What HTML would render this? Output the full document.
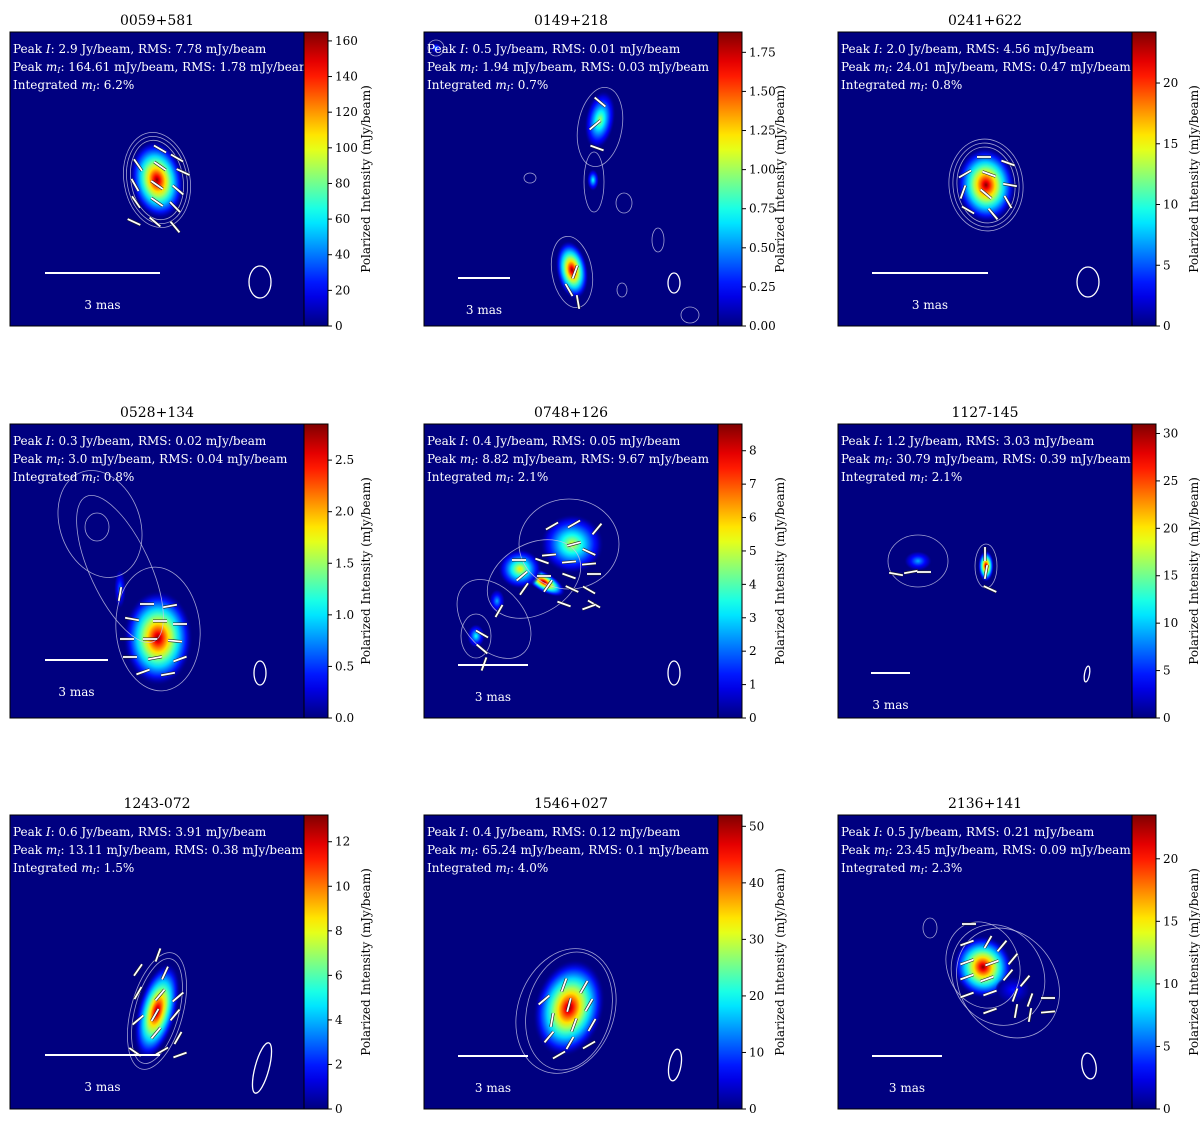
<!DOCTYPE html>
<html><head><meta charset="utf-8"><style>
html,body{margin:0;padding:0;background:#fff;}
svg{display:block;font-family:"DejaVu Serif","Liberation Serif",serif;}
</style></head><body>
<svg id="fig" width="1200" height="1123" viewBox="0 0 1200 1123" xmlns="http://www.w3.org/2000/svg">
<defs id="defs"></defs>
</svg>
<script>
const titles=["0059+581","0149+218","0241+622","0528+134","0748+126","1127-145","1243-072","1546+027","2136+141"];
const line1=[["2.9","7.78"],["0.5","0.01"],["2.0","4.56"],["0.3","0.02"],["0.4","0.05"],["1.2","3.03"],["0.6","3.91"],["0.4","0.12"],["0.5","0.21"]];
const line2=[["164.61","1.78"],["1.94","0.03"],["24.01","0.47"],["3.0","0.04"],["8.82","9.67"],["30.79","0.39"],["13.11","0.38"],["65.24","0.1"],["23.45","0.09"]];
const integ=["6.2","0.7","0.8","0.8","2.1","2.1","1.5","4.0","2.3"];
const cbMax=[165,1.88,24.2,2.85,8.8,31,13.2,52,23.5];
const cbTicks=[[0,20,40,60,80,100,120,140,160],[0,0.25,0.5,0.75,1.0,1.25,1.5,1.75],[0,5,10,15,20],[0,0.5,1.0,1.5,2.0,2.5],[0,1,2,3,4,5,6,7,8],[0,5,10,15,20,25,30],[0,2,4,6,8,10,12],[0,10,20,30,40,50],[0,5,10,15,20]];
const cbDec=[0,2,0,1,0,0,0,0,0];
// blobs: [panel, cx, cy, rx, ry, rot, peakFraction]
const blobs=[[0,147,148,27,40,-10,1],
[1,176,88,15,30,10,0.55],[1,169,148,6,11,0,0.4],[1,148,238,16,30,-10,1],[1,12,16,5,5,0,0.3],
[2,148,153,30,38,-5,1],
[3,148,214,35,48,0,1],[3,110,165,6,20,0,0.25],
[4,120,158,24,10,30,1],[4,148,120,32,30,0,0.6],[4,96,145,22,20,0,0.65],[4,73,177,8,12,0,0.3],[4,52,212,9,12,0,0.4],
[5,80,137,14,10,0,0.3],[5,148,142,8,16,0,1],
[6,147,196,20,50,15,1],
[7,145,193,35,50,15,1],
[8,145,152,30,32,-20,1],[8,175,175,18,14,0,0.15]];
// contours: [panel, cx, cy, rx, ry, rot]
const contours=[[0,147,148,33,48,-10],[0,147,148,30,44,-10],[0,147,148,26,40,-10],
[1,176,95,22,40,10],[1,170,150,10,30,0],[1,148,240,20,36,-10],[1,106,146,6,5,0],[1,200,171,8,10,0],[1,234,208,6,12,0],[1,198,258,5,7,0],[1,266,283,9,8,0],[1,12,16,8,8,0],
[2,148,153,37,46,-5],[2,148,153,33,42,-5],[2,148,153,29,38,-5],
[3,148,205,42,62,-5],[3,90,100,40,55,-20],[3,110,145,30,80,-25],[3,87,103,12,14,0],
[4,145,120,50,45,0],[4,110,155,50,35,-30],[4,70,195,30,45,-40],[4,52,212,15,22,0],
[5,80,137,30,26,0],[5,148,142,11,22,0],
[6,147,196,26,60,15],[6,147,196,22,54,15],
[7,145,196,42,60,15],[7,142,196,48,64,20],
[8,145,150,36,44,-20],[8,160,160,45,52,-30],[8,170,168,48,58,-35],[8,92,113,7,10,0]];
// EVPA vectors: [panel, x, y, angleDeg]
const vecs=[[0,150,117,30],[0,167,126,30],[0,128,133,55],[0,150,134,35],[0,173,140,25],[0,125,153,60],[0,147,153,35],[0,168,158,40],[0,126,170,55],[0,147,170,35],[0,165,175,45],[0,124,190,25],[0,145,190,40],[0,165,195,50],
[1,176,70,40],[1,171,93,-40],[1,173,116,20],[1,151,240,-70],[1,145,258,60],[1,154,270,80],
[2,146,125,0],[2,170,131,20],[2,127,142,-30],[2,151,142,20],[2,172,153,10],[2,125,160,-70],[2,148,162,40],[2,170,170,60],[2,130,178,30],[2,155,182,50],
[3,110,170,-80],[3,137,180,0],[3,160,182,-10],[3,122,195,10],[3,150,197,0],[3,170,200,0],[3,117,215,0],[3,140,215,0],[3,165,217,5],[3,120,233,0],[3,145,234,-10],[3,170,235,-20],[3,133,248,-20],[3,158,250,-10],
[4,128,102,-30],[4,150,100,-30],[4,173,105,-50],[4,150,120,-15],[4,125,131,-5],[4,165,128,25],[4,95,136,0],[4,118,137,20],[4,145,138,-5],[4,165,140,-5],[4,98,152,-40],[4,120,152,0],[4,145,152,20],[4,170,150,0],[4,100,165,-55],[4,124,162,-55],[4,148,165,25],[4,165,166,30],[4,170,180,30],[4,140,180,20],[4,165,183,-20],[4,75,187,-60],[4,58,210,30],[4,58,225,40],[4,60,240,-70],
[5,58,150,10],[5,73,148,-10],[5,86,148,0],[5,147,130,-90],[5,148,148,-80],[5,152,165,25],
[6,148,140,-70],[6,128,155,-55],[6,155,158,-65],[6,128,178,-60],[6,150,180,-50],[6,168,182,-40],[6,145,200,-60],[6,165,200,-50],[6,128,205,-40],[6,146,218,-50],[6,168,223,-60],[6,152,236,-30],[6,125,237,35],[6,170,240,-20],
[7,140,170,-70],[7,160,172,-60],[7,120,185,-40],[7,145,190,-75],[7,165,190,-60],[7,128,205,-80],[7,150,210,-70],[7,168,210,-60],[7,125,222,-50],[7,146,228,-60],[7,165,230,-30],[7,135,240,-30],
[8,131,109,0],[8,129,128,-20],[8,150,127,-60],[8,164,131,-50],[8,129,147,-20],[8,154,148,-20],[8,175,144,-50],[8,129,162,-20],[8,149,164,-20],[8,170,160,-50],[8,187,166,-50],[8,129,180,-20],[8,152,178,-20],[8,177,180,-70],[8,192,185,-70],[8,210,183,0],[8,152,196,-20],[8,178,196,-80],[8,192,200,-80],[8,210,197,-5]];
// beam ellipses: [panel, cx, cy, rx, ry, rot]
const beams=[[0,250,250,11,16,0],[1,250,251,6,10,0],[2,250,250,11,15,0],[3,250,249,6,12,0],[4,250,249,6,12,0],[5,249,250,2.5,8,10],[6,252,253,7,26,15],[7,251,250,6,16,10],[8,251,251,7,13,-10]];
// scale bars: [panel, x1, x2, y]
const bars=[[0,35,150,241],[1,34,86,246],[2,34,150,241],[3,35,98,236],[4,34,104,241],[5,33,72,249],[6,35,150,240],[7,34,104,241],[8,34,104,241]];

const svg=document.getElementById('fig'),defs=document.getElementById('defs');
const NS='http://www.w3.org/2000/svg';
function mk(t,a,p){const e=document.createElementNS(NS,t);for(const k in a)e.setAttribute(k,a[k]);(p||svg).appendChild(e);return e;}
function jet(v){v=Math.max(0,Math.min(1,v));
 const r=Math.min(4*v-1.5,-4*v+4.5),g=Math.min(4*v-0.5,-4*v+3.5),b=Math.min(4*v+0.5,-4*v+2.5);
 const c=x=>Math.round(255*Math.max(0,Math.min(1,x)));return `rgb(${c(r)},${c(g)},${c(b)})`;}
const PX=[10,424,838],PY=[32,424,815],W=294,H=294,CBW=24;
const lg=mk('linearGradient',{id:'jetg',x1:0,y1:1,x2:0,y2:0},defs);
for(let i=0;i<=20;i++)mk('stop',{offset:i/20,'stop-color':jet(i/20)},lg);
const gradCache={};
function blobGrad(pk){const id='bg'+Math.round(pk*100);if(gradCache[id])return id;gradCache[id]=1;
 const rg=mk('radialGradient',{id:id},defs);
 for(let i=0;i<=10;i++){const t=i/10;mk('stop',{offset:t,'stop-color':jet(pk*Math.pow(1-t,1.2)),'stop-opacity':t>0.85?(1-t)/0.15:1},rg);}
 return id;}
for(let p=0;p<9;p++){
 const x0=PX[p%3],y0=PY[Math.floor(p/3)];
 const g=mk('g',{transform:`translate(${x0},${y0})`});
 
 
 const cp=mk('clipPath',{id:'cp'+p},defs);mk('rect',{x:0,y:0,width:W,height:H},cp);
 const bg=mk('rect',{x:0,y:0,width:W,height:H,fill:'#000080'},g);
 
 
 const ig=mk('g',{'clip-path':`url(#cp${p})`},g);
 blobs.filter(b=>b[0]===p).forEach(b=>{const e=mk('ellipse',{cx:b[1],cy:b[2],rx:b[3],ry:b[4],transform:`rotate(${b[5]} ${b[1]} ${b[2]})`,fill:`url(#${blobGrad(b[6])})`},ig);
  
  });
 contours.filter(c=>c[0]===p).forEach(c=>{const e=mk('ellipse',{cx:c[1],cy:c[2],rx:c[3],ry:c[4],transform:`rotate(${c[5]} ${c[1]} ${c[2]})`,fill:'none',stroke:'#c8c8e8','stroke-width':0.8,opacity:0.8},ig);
  
  });
 vecs.filter(v=>v[0]===p).forEach(v=>{const a=v[3]*Math.PI/180,L=7,dx=L*Math.cos(a),dy=L*Math.sin(a);
  mk('line',{x1:v[1]-dx,y1:v[2]-dy,x2:v[1]+dx,y2:v[2]+dy,stroke:'#222','stroke-width':3,'stroke-linecap':'butt'},ig);
  const e=mk('line',{x1:v[1]-dx,y1:v[2]-dy,x2:v[1]+dx,y2:v[2]+dy,stroke:'#fff','stroke-width':1.8},ig);
  
  });
 beams.filter(b=>b[0]===p).forEach(b=>{const e=mk('ellipse',{cx:b[1],cy:b[2],rx:b[3],ry:b[4],transform:`rotate(${b[5]} ${b[1]} ${b[2]})`,fill:'none',stroke:'#fff','stroke-width':1.3},ig);
  
  });
 bars.filter(b=>b[0]===p).forEach(b=>{const e=mk('line',{x1:b[1],x2:b[2],y1:b[3],y2:b[3],stroke:'#fff','stroke-width':2},ig);
  
  
  const t=mk('text',{x:(b[1]+b[2])/2,y:b[3]+36,fill:'#fff','font-size':12,'text-anchor':'middle'},ig);t.textContent='3 mas';
  
  });
 const lines=[`Peak <tspan font-style="italic">I</tspan>: ${line1[p][0]} Jy/beam, RMS: ${line1[p][1]} mJy/beam`,
  `Peak <tspan font-style="italic">m</tspan><tspan font-size="8" dy="2" font-style="italic">I</tspan><tspan dy="-2">: ${line2[p][0]} mJy/beam, RMS: ${line2[p][1]} mJy/beam</tspan>`,
  `Integrated <tspan font-style="italic">m</tspan><tspan font-size="8" dy="2" font-style="italic">I</tspan><tspan dy="-2">: ${integ[p]}%</tspan>`];
 const ly=[21,39,57];
 lines.forEach((s,i)=>{const t=mk('text',{x:3,y:ly[i],fill:'#fff','font-size':12},g);t.innerHTML=s;
  
  });
 mk('rect',{x:0,y:0,width:W,height:H,fill:'none',stroke:'#000','stroke-width':1},g);
 const tt=mk('text',{x:W/2,y:-7,'font-size':14,'text-anchor':'middle',fill:'#000'},g);tt.textContent=titles[p];
 
 
 const cb=mk('rect',{x:W,y:0,width:CBW,height:H,fill:'url(#jetg)',stroke:'#000','stroke-width':1},g);
 
 
 const ys=v=>H-v/cbMax[p]*H;
 cbTicks[p].forEach(v=>{const y=ys(v);mk('line',{x1:W+CBW,x2:W+CBW+4,y1:y,y2:y,stroke:'#000'},g);
  const t=mk('text',{x:W+CBW+7,y:y+4,'font-size':12,fill:'#000'},g);t.textContent=v.toFixed(cbDec[p]);
  
  });
 const lab=mk('text',{transform:`translate(${W+CBW+42},${H/2}) rotate(-90)`,'font-size':12,'text-anchor':'middle',fill:'#000'},g);
 lab.textContent='Polarized Intensity (mJy/beam)';
 
 
}
</script>
</body></html>
